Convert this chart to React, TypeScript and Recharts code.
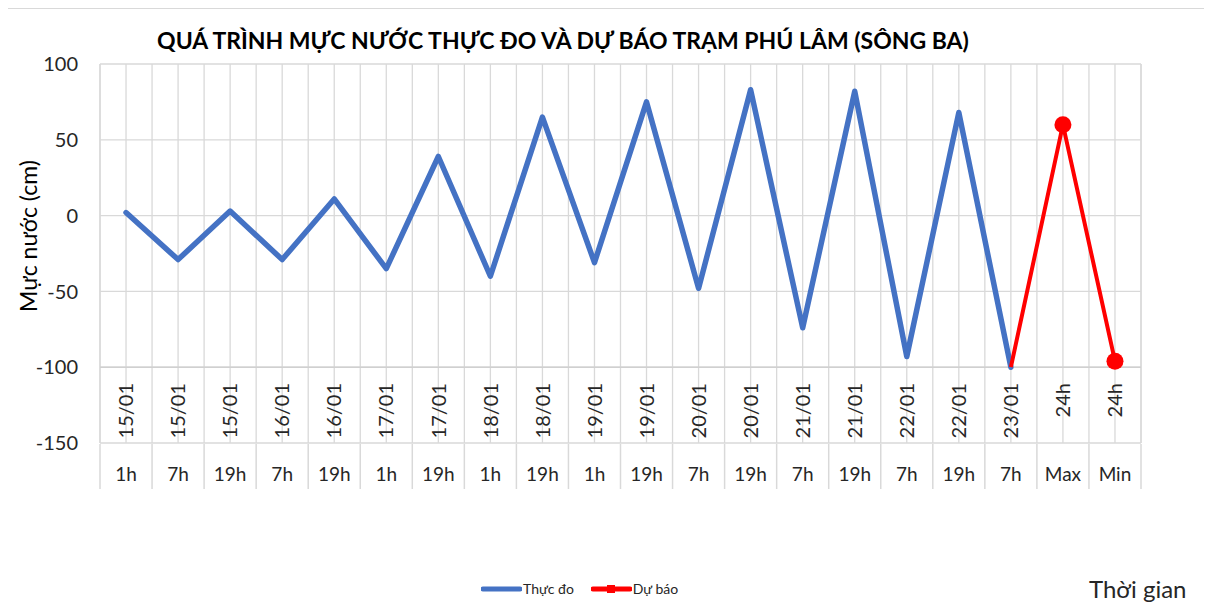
import React from "react";
import {
  CartesianGrid,
  Legend,
  Line,
  LineChart,
  ReferenceLine,
  XAxis,
  YAxis,
} from "recharts";

// category labels (two levels: date row + hour row)
const dateLabels = [
  "15/01", "15/01", "15/01", "16/01", "16/01", "17/01", "17/01", "18/01", "18/01", "19/01",
  "19/01", "20/01", "20/01", "21/01", "21/01", "22/01", "22/01", "23/01", "24h", "24h",
];
const hourLabels = [
  "1h", "7h", "19h", "7h", "19h", "1h", "19h", "1h", "19h", "1h",
  "19h", "7h", "19h", "7h", "19h", "7h", "19h", "7h", "Max", "Min",
];

// water level (cm)
const measured = [2, -29, 3, -29, 11, -35, 39, -40, 65, -31, 75, -48, 83, -74, 82, -93, 68, -100];
const forecastStart = 17;
const forecast = [-100, 60, -96];

const yTicks = [-150, -100, -50, 0, 50, 100];
const seriesOrder = ["measured", "forecast"];

const data = dateLabels.map((d, i) => ({
  slot: i + 0.5,
  date: d,
  hour: hourLabels[i],
  measured: i < measured.length ? measured[i] : null,
  forecast: i >= forecastStart ? forecast[i - forecastStart] : null,
}));

const slotTicks = data.map((r) => r.slot);
const edgeTicks = Array.from({ length: dateLabels.length + 1 }, (_, i) => i);

const FONT = "Lato, 'Liberation Sans', sans-serif";
const GRID = "#d9d9d9";
const TEXT = "#262626";

function CategoryTick(props: any) {
  const { x, y, payload } = props;
  const i = Math.floor(payload.value);
  return (
    <g>
      <text
        x={x}
        y={y - 60}
        transform={`rotate(-90, ${x}, ${y - 60})`}
        textAnchor="end"
        dy="0.36em"
        fontSize={20}
        fontFamily={FONT}
        fill={TEXT}
      >
        {dateLabels[i]}
      </text>
      <text x={x} y={y + 38} textAnchor="middle" fontSize={19} fontFamily={FONT} fill={TEXT}>
        {hourLabels[i]}
      </text>
    </g>
  );
}

function ForecastDot(props: any) {
  const { cx, cy, index } = props;
  if (index <= forecastStart || cx == null || cy == null) return <g key={`d${index}`} />;
  return <circle key={`d${index}`} cx={cx} cy={cy} r={8.5} fill="#ff0000" stroke="none" />;
}

function LegendContent(props: any) {
  const items = [...(props.payload || [])].sort(
    (a: any, b: any) => seriesOrder.indexOf(a.dataKey) - seriesOrder.indexOf(b.dataKey)
  );
  return (
    <div style={{ display: "flex", alignItems: "center", fontFamily: FONT, fontSize: 14, color: TEXT }}>
      {items.map((p: any, k: number) => (
        <div key={k} style={{ display: "flex", alignItems: "center", marginRight: 17 }}>
          <svg width={41} height={12}>
            <line x1={2} y1={6} x2={39} y2={6} stroke={p.color} strokeWidth={5} strokeLinecap="round" />
            {p.dataKey === "forecast" && <rect x={16} y={2} width={8} height={8} fill={p.color} />}
          </svg>
          <span style={{ marginLeft: 1 }}>{p.value}</span>
        </div>
      ))}
    </div>
  );
}

export default function App() {
  return (
    <div style={{ position: "relative", width: 1212, height: 610, marginLeft: -8, marginTop: -8, background: "#fff", overflow: "hidden" }}>
      <div
        style={{
          position: "absolute",
          left: 4,
          top: 7,
          width: 1205,
          height: 620,
          border: `2px solid ${GRID}`,
          boxSizing: "border-box",
        }}
      />
      <div
        style={{
          position: "absolute",
          left: 0,
          top: 26,
          width: 1126,
          textAlign: "center",
          fontFamily: FONT,
          fontWeight: 700,
          fontSize: 23,
          color: "#000",
          whiteSpace: "nowrap",
        }}
      >
        QUÁ TRÌNH MỰC NƯỚC THỰC ĐO VÀ DỰ BÁO TRẠM PHÚ LÂM (SÔNG BA)
      </div>
      <div
        style={{
          position: "absolute",
          left: 28,
          top: 236,
          transform: "translate(-50%, -50%) rotate(-90deg)",
          fontFamily: FONT,
          fontSize: 23,
          color: "#000",
          whiteSpace: "nowrap",
        }}
      >
        Mực nước (cm)
      </div>
      <div
        style={{
          position: "absolute",
          left: 1089,
          top: 574,
          fontFamily: FONT,
          fontSize: 24,
          color: TEXT,
          whiteSpace: "nowrap",
        }}
      >
        Thời gian
      </div>
      <div style={{ position: "absolute", left: 0, top: 0 }}>
        <LineChart width={1212} height={610} data={data} margin={{ top: 64, right: 71, left: 0, bottom: 165 }}>
          <CartesianGrid xAxisId="cat" stroke={GRID} strokeWidth={1.3} />
          <CartesianGrid xAxisId="edge" horizontal={false} stroke={GRID} strokeWidth={1.3} />
          <XAxis
            xAxisId="cat"
            dataKey="slot"
            type="number"
            domain={[0, dateLabels.length]}
            ticks={slotTicks}
            height={1}
            tickSize={0}
            tickMargin={0}
            tickLine={false}
            axisLine={false}
            interval={0}
            tick={<CategoryTick />}
          />
          <XAxis
            xAxisId="edge"
            dataKey="slot"
            type="number"
            domain={[0, dateLabels.length]}
            ticks={edgeTicks}
            height={1}
            tickSize={45}
            tickLine={{ stroke: GRID, strokeWidth: 1.5 }}
            axisLine={false}
            interval={0}
            tick={() => <g />}
          />
          <YAxis
            domain={[-150, 100]}
            ticks={yTicks}
            width={100}
            tickSize={0}
            tickMargin={22}
            tickLine={false}
            axisLine={false}
            interval={0}
            tick={{ fontSize: 20, fontFamily: FONT, fill: TEXT }}
          />
          <ReferenceLine xAxisId="cat" y={-100} stroke="#d0d0d0" strokeWidth={1.5} />
          <Legend
            layout="horizontal"
            verticalAlign="middle"
            content={<LegendContent />}
            wrapperStyle={{ position: "absolute", left: 481, top: 580, width: 320 }}
          />
          <Line
            xAxisId="cat"
            name="Thực đo"
            dataKey="measured"
            stroke="#4472c4"
            strokeWidth={5.5}
            strokeLinejoin="round"
            strokeLinecap="round"
            dot={false}
            isAnimationActive={false}
            connectNulls={false}
          />
          <Line
            xAxisId="cat"
            name="Dự báo"
            dataKey="forecast"
            stroke="#ff0000"
            strokeWidth={4}
            strokeLinejoin="round"
            dot={<ForecastDot />}
            activeDot={false}
            isAnimationActive={false}
          />
        </LineChart>
      </div>
    </div>
  );
}
